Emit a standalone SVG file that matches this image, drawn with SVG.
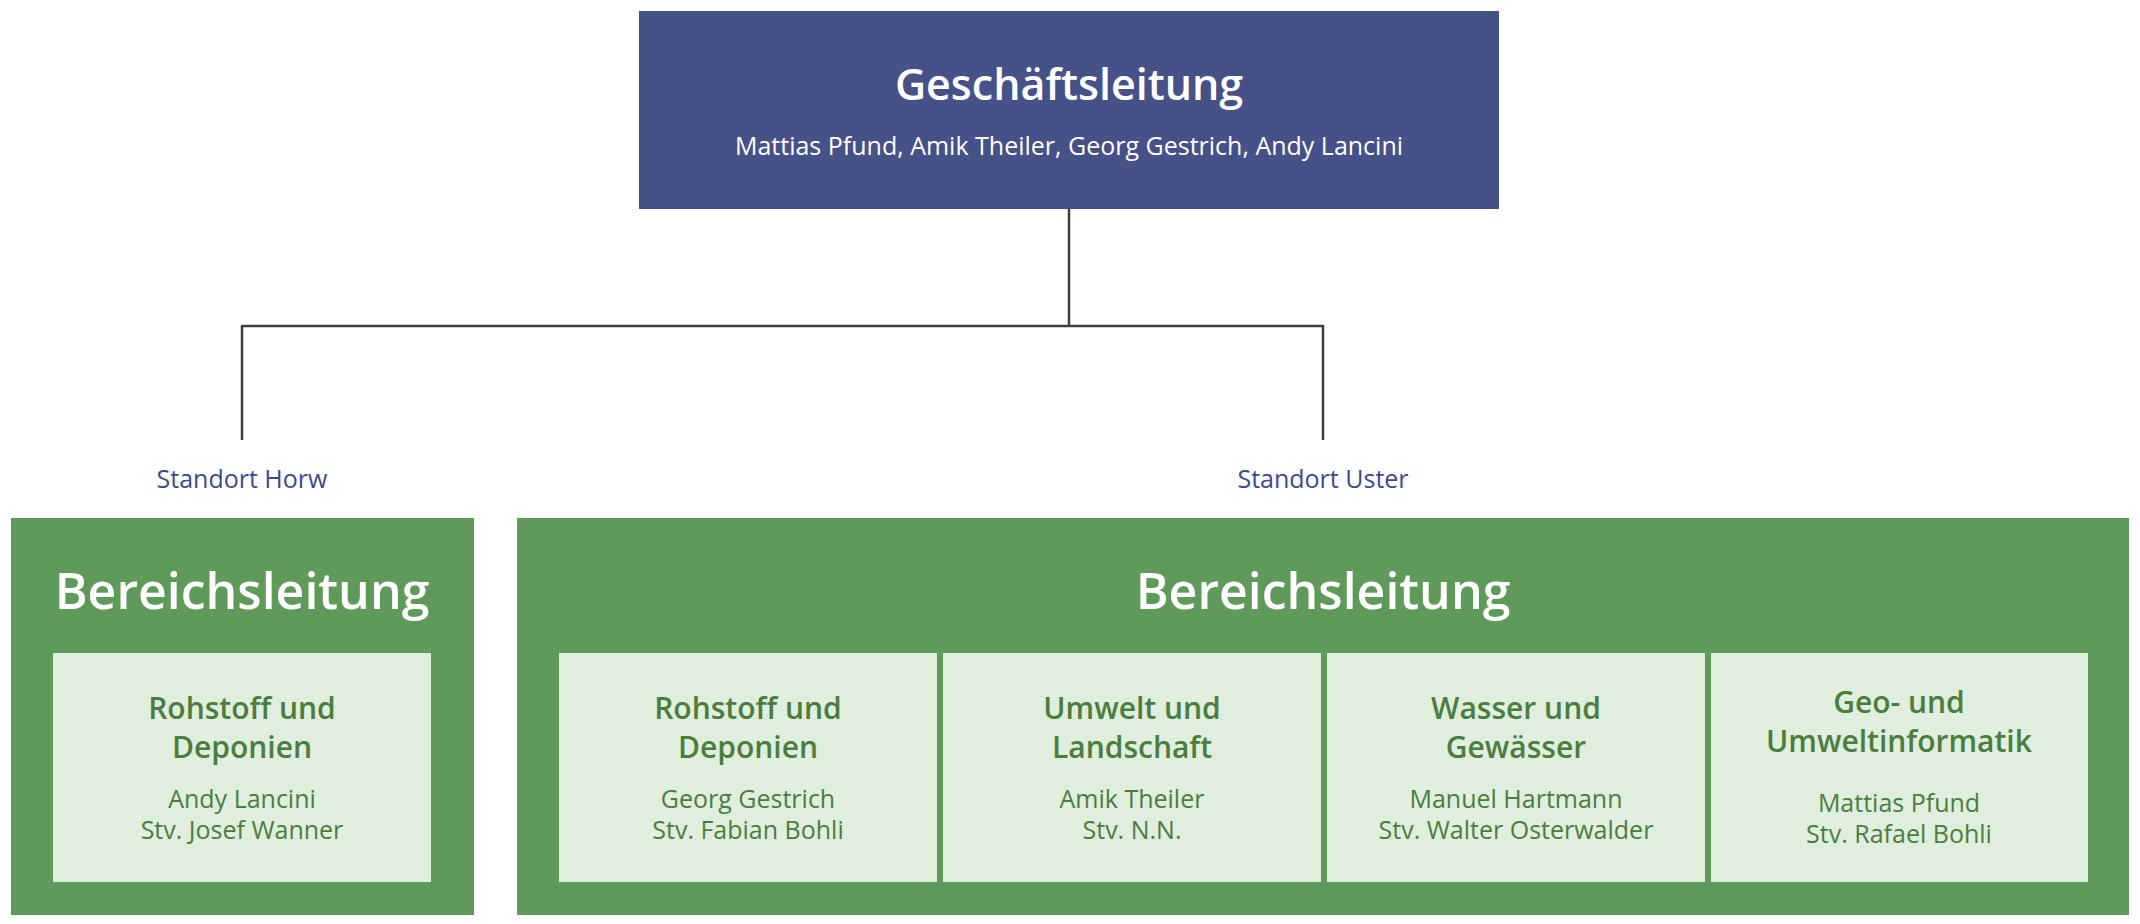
<svg xmlns="http://www.w3.org/2000/svg" width="2140" height="924" viewBox="0 0 2140 924">
<style>
text{font-family:"Open Sans","Noto Sans","Liberation Sans",sans-serif;text-anchor:middle}
.top{fill:#465187}
.panel{fill:#5f9a5a}
.box{fill:#e0eedd}
.t1{font-size:43px;font-weight:600;fill:#fff}
.t2{font-size:25px;fill:#fff}
.loc{font-size:25px;fill:#3e4a8a}
.bl{font-size:50px;font-weight:600;fill:#fff}
.bt{font-size:30px;font-weight:600;fill:#4b7d3f}
.bp{font-size:25px;fill:#4b7d3f}
.conn{fill:none;stroke:#404040;stroke-width:2.5}
</style>
<rect width="2140" height="924" fill="#fff"/>
<g id="connectors">
<path class="conn" d="M1069 209V326M242 326H1323M242 325V440M1323 325V440"/>
</g>
<g id="geschaeftsleitung">
<rect class="top" x="639" y="11" width="860" height="198"/>
<text class="t1" x="1069" y="100">Geschäftsleitung</text>
<text class="t2" x="1069" y="155">Mattias Pfund, Amik Theiler, Georg Gestrich, Andy Lancini</text>
</g>
<g id="standort-horw">
<text class="loc" x="242" y="488">Standort Horw</text>
<rect class="panel" x="11" y="518" width="463" height="397"/>
<text class="bl" x="242" y="609">Bereichsleitung</text>
<g id="horw-rohstoff">
<rect class="box" x="53" y="653" width="378" height="229"/>
<text class="bt" x="242" y="719">Rohstoff und</text>
<text class="bt" x="242" y="758">Deponien</text>
<text class="bp" x="242" y="808">Andy Lancini</text>
<text class="bp" x="242" y="839">Stv. Josef Wanner</text>
</g>
</g>
<g id="standort-uster">
<text class="loc" x="1323" y="488">Standort Uster</text>
<rect class="panel" x="517" y="518" width="1612" height="397"/>
<text class="bl" x="1323" y="609">Bereichsleitung</text>
<g id="uster-rohstoff">
<rect class="box" x="559" y="653" width="378" height="229"/>
<text class="bt" x="748" y="719">Rohstoff und</text>
<text class="bt" x="748" y="758">Deponien</text>
<text class="bp" x="748" y="808">Georg Gestrich</text>
<text class="bp" x="748" y="839">Stv. Fabian Bohli</text>
</g>
<g id="uster-umwelt">
<rect class="box" x="943" y="653" width="378" height="229"/>
<text class="bt" x="1132" y="719">Umwelt und</text>
<text class="bt" x="1132" y="758">Landschaft</text>
<text class="bp" x="1132" y="808">Amik Theiler</text>
<text class="bp" x="1132" y="839">Stv. N.N.</text>
</g>
<g id="uster-wasser">
<rect class="box" x="1327" y="653" width="378" height="229"/>
<text class="bt" x="1516" y="719">Wasser und</text>
<text class="bt" x="1516" y="758">Gewässer</text>
<text class="bp" x="1516" y="808">Manuel Hartmann</text>
<text class="bp" x="1516" y="839">Stv. Walter Osterwalder</text>
</g>
<g id="uster-geo">
<rect class="box" x="1711" y="653" width="377" height="229"/>
<text class="bt" x="1899" y="713">Geo- und</text>
<text class="bt" x="1899" y="752">Umweltinformatik</text>
<text class="bp" x="1899" y="812">Mattias Pfund</text>
<text class="bp" x="1899" y="843">Stv. Rafael Bohli</text>
</g>
</g>
</svg>
